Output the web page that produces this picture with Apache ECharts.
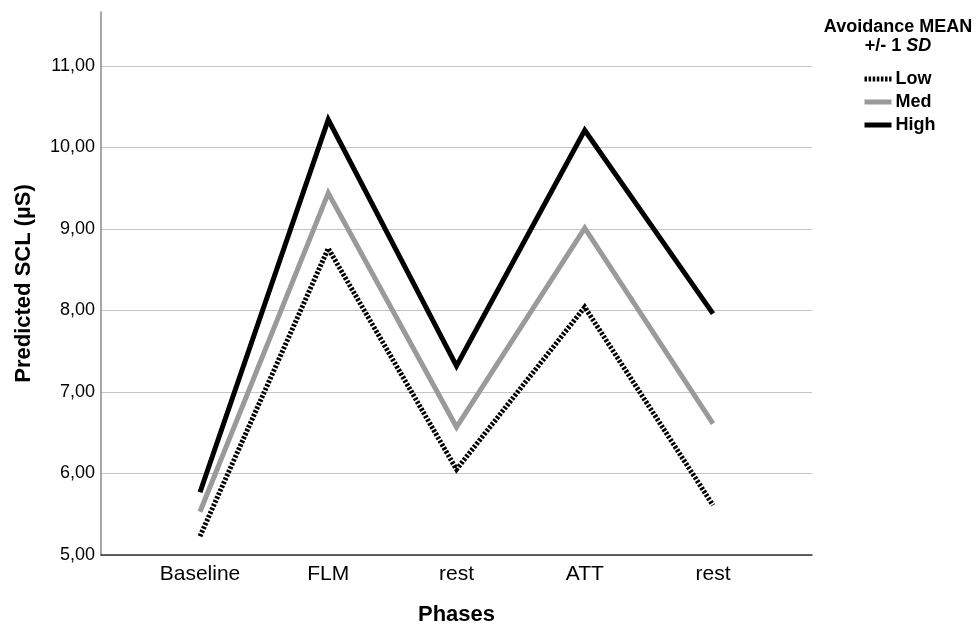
<!DOCTYPE html>
<html>
<head>
<meta charset="utf-8">
<script src="https://cdn.jsdelivr.net/npm/echarts@6/dist/echarts.min.js"></script>
<style>
  html, body { margin: 0; padding: 0; background: #fff; }
  #chart { width: 976px; height: 631px; }
</style>
</head>
<body>
<div id="chart"></div>
<script>
// Phases on the x axis
const phases = ['Baseline', 'FLM', 'rest', 'ATT', 'rest'];

// Predicted SCL per avoidance level (MEAN +/- 1 SD)
const lowValues = [5.23, 8.76, 6.05, 8.04, 5.61];
const medValues = [5.53, 9.44, 6.57, 9.01, 6.61];
const highValues = [5.77, 10.34, 7.32, 10.21, 7.96];

const yTicks = [5, 6, 7, 8, 9, 10, 11];

const font = '"Liberation Sans", Arial, sans-serif';

const chart = echarts.init(document.getElementById('chart'), null, { renderer: 'canvas' });

// pair each value with its phase index so the value x axis can place them
const toPoints = arr => arr.map((v, i) => [i, v]);

// grid lines: one per tick, the last one (axis top, 11.66) hidden
const gridColors = yTicks.map(() => '#c4c4c4').concat(['rgba(0,0,0,0)']);

const option = {
  animation: false,
  backgroundColor: '#fff',
  textStyle: { fontFamily: font, color: '#000' },
  grid: {
    left: 101,
    right: 164,
    top: 12,
    bottom: 72
  },
  xAxis: {
    type: 'value',
    min: -0.772,
    max: 4.772,
    name: 'Phases',
    nameLocation: 'middle',
    nameGap: 49,
    nameTextStyle: { fontSize: 22, fontWeight: 'bold', color: '#000', fontFamily: font },
    axisLine: { show: true, lineStyle: { color: '#333', width: 1.5 } },
    axisTick: { show: false },
    splitLine: { show: false },
    axisLabel: {
      customValues: [0, 1, 2, 3, 4],
      formatter: v => phases[v],
      fontSize: 21,
      color: '#000',
      margin: 9,
      fontFamily: font
    }
  },
  yAxis: {
    type: 'value',
    min: 5,
    max: 11.66,
    interval: 1,
    name: 'Predicted SCL (µS)',
    nameLocation: 'middle',
    nameGap: 66,
    nameTextStyle: { fontSize: 22, fontWeight: 'bold', color: '#000', fontFamily: font },
    axisLine: { show: true, onZero: false, lineStyle: { color: '#8a8a8a', width: 1.5 } },
    axisTick: { show: false },
    axisLabel: {
      customValues: yTicks,
      formatter: v => v.toFixed(2).replace('.', ','),
      fontSize: 18,
      color: '#000',
      margin: 6,
      padding: [6, 0, 0, 0],
      fontFamily: font
    },
    splitLine: {
      show: true,
      lineStyle: { color: gridColors, width: 1.2 }
    }
  },
  legend: {
    orient: 'vertical',
    left: 862,
    top: 70,
    itemWidth: 27,
    itemHeight: 14,
    itemGap: 5,
    padding: 0,
    data: ['Low', 'Med', 'High'],
    itemStyle: { opacity: 0 },
    lineStyle: { width: 5 },
    textStyle: { fontSize: 18, fontWeight: 'bold', color: '#000', fontFamily: font, padding: [0, 0, 0, -1] }
  },
  graphic: [
    {
      type: 'text',
      x: 898,
      y: 27,
      style: {
        text: 'Avoidance MEAN',
        textAlign: 'center',
        textVerticalAlign: 'middle',
        font: 'bold 18px ' + font,
        fill: '#000'
      }
    },
    {
      type: 'text',
      x: 898,
      y: 46,
      style: {
        text: '{n|+/- 1 }{i|SD}',
        textAlign: 'center',
        textVerticalAlign: 'middle',
        rich: {
          n: { fontSize: 18, fontWeight: 'bold', fontFamily: font, fill: '#000' },
          i: { fontSize: 18, fontWeight: 'bold', fontStyle: 'italic', fontFamily: font, fill: '#000' }
        }
      }
    }
  ],
  series: [
    {
      name: 'Low',
      type: 'line',
      data: toPoints(lowValues),
      symbol: 'none',
      lineStyle: { color: '#000', width: 5, type: [2.5, 1.6], join: 'miter', cap: 'butt' },
      itemStyle: { color: '#000' }
    },
    {
      name: 'Med',
      type: 'line',
      data: toPoints(medValues),
      symbol: 'none',
      lineStyle: { color: '#9a9a9a', width: 5, join: 'miter', cap: 'butt' },
      itemStyle: { color: '#9a9a9a' }
    },
    {
      name: 'High',
      type: 'line',
      data: toPoints(highValues),
      symbol: 'none',
      lineStyle: { color: '#000', width: 5, join: 'miter', cap: 'butt' },
      itemStyle: { color: '#000' }
    }
  ]
};

chart.setOption(option);
</script>
</body>
</html>
